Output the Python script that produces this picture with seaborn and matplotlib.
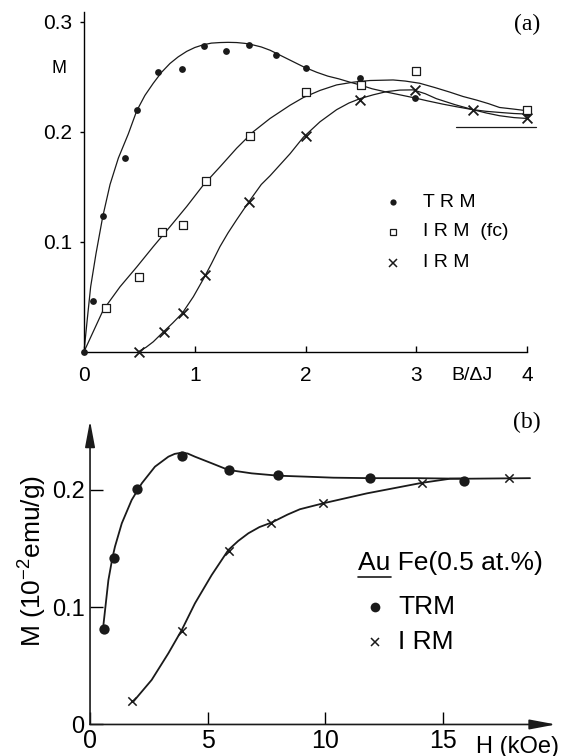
import matplotlib
matplotlib.use("Agg")
import numpy as np
import pandas as pd
import seaborn as sns
import matplotlib.pyplot as plt

# ---------------- panel (a): M vs B/dJ ----------------
a_trm_x = [0.0, 0.08, 0.17, 0.37, 0.48, 0.67, 0.88, 1.08, 1.28, 1.49, 1.73, 2.0, 2.49, 2.99, 4.0]
a_trm_y = [0.0, 0.046, 0.123, 0.176, 0.220, 0.254, 0.257, 0.278, 0.273, 0.279, 0.270, 0.258, 0.249, 0.231, 0.217]
a_fc_x = [0.2, 0.5, 0.7, 0.89, 1.1, 1.5, 2.0, 2.5, 3.0, 4.0]
a_fc_y = [0.040, 0.068, 0.109, 0.115, 0.155, 0.196, 0.236, 0.242, 0.255, 0.220]
a_irm_x = [0.5, 0.72, 0.89, 1.09, 1.49, 2.0, 2.49, 2.99, 3.51, 4.0]
a_irm_y = [0.0, 0.018, 0.035, 0.070, 0.136, 0.196, 0.229, 0.238, 0.220, 0.212]

# fitted curves
a_trm_cx = [0, 0.03, 0.06, 0.108, 0.169, 0.235, 0.31, 0.40, 0.476, 0.55, 0.625, 0.7, 0.776, 0.85, 0.927,
            1.0, 1.077, 1.15, 1.227, 1.3, 1.378, 1.45, 1.5, 1.6, 1.68, 1.76, 1.86, 1.98, 2.1, 2.2, 2.3,
            2.4, 2.49, 2.6, 2.73, 2.85, 2.97, 3.1, 3.24, 3.37, 3.51, 3.63, 3.75, 3.88, 4.0]
a_trm_cy = [0, 0.03, 0.059, 0.089, 0.1227, 0.152, 0.176, 0.198, 0.219, 0.233, 0.244, 0.254, 0.262, 0.268, 0.273,
            0.2765, 0.279, 0.2805, 0.281, 0.2812, 0.281, 0.2803, 0.2795, 0.277, 0.274, 0.270, 0.265, 0.259, 0.254, 0.2505, 0.248,
            0.245, 0.2425, 0.239, 0.236, 0.2335, 0.231, 0.228, 0.225, 0.2225, 0.220, 0.2185, 0.2175, 0.2165, 0.216]
a_fc_cx = [0, 0.174, 0.325, 0.476, 0.625, 0.776, 0.927, 1.077, 1.227, 1.378, 1.528, 1.679, 1.859, 1.979,
           2.13, 2.28, 2.43, 2.58, 2.79, 2.9, 3.03, 3.17, 3.30, 3.42, 3.54, 3.65, 3.75, 3.88, 4.0]
a_fc_cy = [0, 0.038, 0.059, 0.077, 0.0955, 0.1136, 0.132, 0.1515, 0.168, 0.185, 0.2, 0.212, 0.224, 0.231,
           0.2375, 0.2425, 0.245, 0.2465, 0.247, 0.246, 0.244, 0.240, 0.236, 0.232, 0.2288, 0.2255, 0.222, 0.2205, 0.219]
a_irm_cx = [0.49, 0.56, 0.625, 0.716, 0.8, 0.887, 0.987, 1.077, 1.15, 1.227, 1.3, 1.378, 1.5, 1.6, 1.68,
            1.86, 1.98, 2.13, 2.28, 2.39, 2.49, 2.61, 2.73, 2.85, 2.97, 3.08, 3.18, 3.35, 3.51, 3.63, 3.75, 3.88, 4.0]
a_irm_cy = [0, 0.004, 0.009, 0.018, 0.026, 0.035, 0.05, 0.066, 0.08, 0.0955, 0.108, 0.12, 0.138, 0.152, 0.16,
            0.180, 0.195, 0.209, 0.22, 0.226, 0.230, 0.2335, 0.2364, 0.2378, 0.238, 0.2345, 0.230, 0.2245, 0.220, 0.217, 0.2145, 0.2128, 0.212]
a_limit_x = [3.36, 4.08]
a_limit_y = [0.204, 0.204]

# ---------------- panel (b): M vs H ----------------
b_trm_x = [0.6, 1.0, 2.0, 3.9, 5.9, 8.0, 11.9, 15.9]
b_trm_y = [0.081, 0.142, 0.201, 0.229, 0.217, 0.213, 0.210, 0.208]
b_irm_x = [1.8, 3.9, 5.9, 7.7, 9.9, 14.1, 17.8]
b_irm_y = [0.020, 0.080, 0.148, 0.172, 0.189, 0.206, 0.210]

b_trm_cx = [0.57, 0.78, 0.95, 1.06, 1.35, 1.77, 2.2, 2.76, 3.33, 3.6, 3.9, 4.15, 4.46, 5.17, 5.88, 6.87,
            8.0, 9.14, 10.34, 11.9, 13.88, 15.87, 18.7]
b_trm_cy = [0.085, 0.123, 0.142, 0.1516, 0.1715, 0.1914, 0.2056, 0.2198, 0.2283, 0.2307, 0.2317, 0.231, 0.2283, 0.2227, 0.217, 0.2141,
            0.2121, 0.2113, 0.2104, 0.21, 0.21, 0.2095, 0.21]
b_irm_cx = [1.84, 2.62, 3.33, 3.9, 4.46, 5.17, 5.88, 6.3, 6.73, 7.2, 7.72, 8.4, 8.92, 9.92, 11.76, 14.1, 15.3, 16.0]
b_irm_cy = [0.0195, 0.038, 0.0607, 0.0806, 0.1033, 0.1274, 0.1488, 0.1565, 0.163, 0.1683, 0.1722, 0.179, 0.1835, 0.1886, 0.197, 0.206, 0.2095, 0.2098]

sns.set_theme(style="ticks", rc={"axes.edgecolor": "black", "xtick.color": "black", "ytick.color": "black",
                                  "text.color": "black", "axes.facecolor": "white"})
plt.rcParams['font.family'] = ['Liberation Sans', 'DejaVu Sans']
plt.rcParams['mathtext.fontset'] = 'custom'
plt.rcParams['mathtext.rm'] = 'Liberation Sans'
serif = ['Liberation Serif', 'DejaVu Serif']

fig = plt.figure(figsize=(5.68, 7.56), dpi=100)
ax_a = fig.add_axes([0.1479, 0.5348, 0.8193, 0.4511])
ax_b = fig.add_axes([0.1585, 0.0417, 0.8285, 0.4065])

# ---- (a) curves and points
for cx, cy in [(a_trm_cx, a_trm_cy), (a_fc_cx, a_fc_cy), (a_irm_cx, a_irm_cy), (a_limit_x, a_limit_y)]:
    sns.lineplot(x=cx, y=cy, ax=ax_a, color='k', lw=0.9, sort=False, estimator=None, legend=False)
sns.scatterplot(x=a_trm_x, y=a_trm_y, ax=ax_a, marker='o', s=24, color='k', edgecolor='k', linewidth=0, clip_on=False, zorder=3)
sns.scatterplot(x=a_fc_x, y=a_fc_y, ax=ax_a, marker='s', s=28, color='white', edgecolor='k', linewidth=0.9, zorder=3)
sns.scatterplot(x=a_irm_x, y=a_irm_y, ax=ax_a, marker='x', s=50, color='k', linewidth=1.3, clip_on=False, zorder=3)

ax_a.set_xlim(0, 4.2)
ax_a.set_ylim(0, 0.31)
ax_a.spines['top'].set_visible(False)
ax_a.spines['right'].set_visible(False)
ax_a.spines['left'].set_bounds(0, 0.309)
ax_a.spines['bottom'].set_bounds(0, 4)
for s in ['left', 'bottom']:
    ax_a.spines[s].set_linewidth(1.0)
ax_a.set_xticks([0, 1, 2, 3, 4])
ax_a.set_xticklabels(['0', '1', '2', '3', '4'])
ax_a.set_yticks([0.1, 0.2, 0.3])
ax_a.set_yticklabels(['0.1', '0.2', '0.3'])
ax_a.tick_params(axis='x', direction='in', length=4, width=1, pad=10, labelsize=15)
ax_a.tick_params(axis='y', direction='out', length=3, width=1, pad=5.5, labelsize=15)
ax_a.set_xlabel('')
ax_a.set_ylabel('')
ax_a.text(-0.226, 0.257, 'M', fontsize=13, ha='center', va='center', clip_on=False)
ax_a.text(3.5, -0.044, 'B/ΔJ', fontsize=14, ha='center', va='top', transform=ax_a.get_xaxis_transform())

# legend (a)
ax_a.plot([2.79], [0.136], 'o', color='k', ms=4.5, mew=0)
ax_a.plot([2.79], [0.109], 's', mfc='white', mec='k', ms=4.5, mew=0.9)
ax_a.plot([2.79], [0.081], 'x', color='k', ms=5.5, mew=1.1)
for lab, yy in [('T R M', 0.136), ('I R M  (fc)', 0.109), ('I R M', 0.081)]:
    ax_a.text(3.06, yy, lab, fontsize=14, ha='left', va='center')

# ---- (b) curves and points
for cx, cy in [(b_trm_cx, b_trm_cy), (b_irm_cx, b_irm_cy)]:
    sns.lineplot(x=cx, y=cy, ax=ax_b, color='k', lw=1.3, sort=False, estimator=None, legend=False)
sns.scatterplot(x=b_trm_x, y=b_trm_y, ax=ax_b, marker='o', s=55, color='k', edgecolor='k', linewidth=0, zorder=3)
sns.scatterplot(x=b_irm_x, y=b_irm_y, ax=ax_b, marker='x', s=36, color='k', linewidth=1.1, zorder=3)

ax_b.set_xlim(0, 20)
ax_b.set_ylim(0, 0.262)
for s in ax_b.spines.values():
    s.set_visible(False)
arrow = dict(arrowstyle='-|>,head_length=1.6,head_width=0.3', color='k', lw=1.2,
             mutation_scale=10, shrinkA=0, shrinkB=0)
ax_b.annotate('', xy=(19.8, 0), xytext=(0, 0), arrowprops=arrow, annotation_clip=False)
ax_b.annotate('', xy=(0, 0.259), xytext=(0, 0), arrowprops=arrow, annotation_clip=False)
ax_b.set_xticks([0, 5, 10, 15])
ax_b.set_xticklabels(['0', '5', '10', '15'])
ax_b.set_yticks([0, 0.1, 0.2])
ax_b.set_yticklabels(['0', '0.1', '0.2'])
ax_b.tick_params(axis='x', direction='in', length=9, width=1, pad=3, labelsize=18)
ax_b.tick_params(axis='y', direction='in', length=9, width=1, pad=4, labelsize=17)
ax_b.set_xlabel('')
ax_b.set_ylabel('')
ax_b.text(-0.125, 0.532, r'M (10$^{-2}$emu/g)', fontsize=19, rotation=90, ha='center', va='center',
          transform=ax_b.transAxes)
ax_b.text(16.4, -0.036, 'H (kOe)', fontsize=17, ha='left', va='top', transform=ax_b.get_xaxis_transform())

# legend (b)
title = ax_b.text(11.4, 0.1317, 'Au Fe(0.5 at.%)', fontsize=19, ha='left', va='baseline')
au = ax_b.text(11.4, 0.1317, 'Au', fontsize=19, ha='left', va='baseline', alpha=0)
fig.canvas.draw()
bb = au.get_window_extent(fig.canvas.get_renderer())
inv = ax_b.transData.inverted()
ux0 = inv.transform((bb.x0, bb.y0))[0]
ux1 = inv.transform((bb.x1, bb.y0))[0]
ax_b.plot([ux0, ux1], [0.1255, 0.1255], color='k', lw=1.2, clip_on=False)
ax_b.plot([12.1], [0.1004], 'o', color='k', ms=7, mew=0)
ax_b.plot([12.1], [0.0706], 'x', color='k', ms=6, mew=1.1)
ax_b.text(13.1, 0.1004, 'TRM', fontsize=19, ha='left', va='center')
ax_b.text(13.1, 0.0706, 'I RM', fontsize=19, ha='left', va='center')

fig.text(0.928, 0.968, '(a)', fontsize=17, family=serif, ha='center', va='center')
fig.text(0.928, 0.441, '(b)', fontsize=17, family=serif, ha='center', va='center')

fig.savefig('out.png', dpi=100, facecolor='white')
